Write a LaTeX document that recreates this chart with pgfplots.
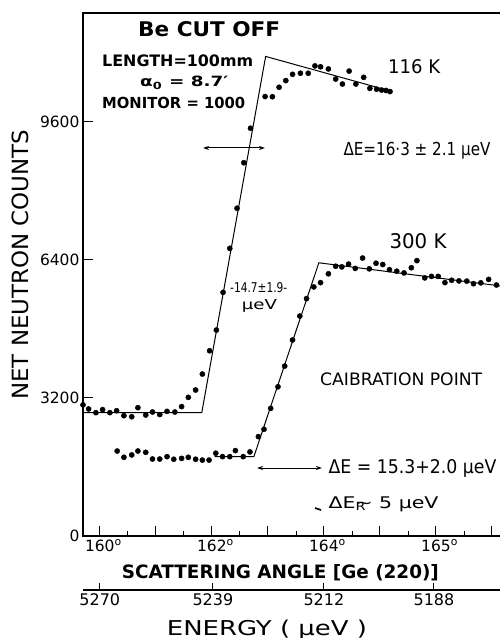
\documentclass[border=0pt]{standalone}
\usepackage{pgfplots}
\pgfplotsset{compat=1.18}
\usepackage{graphicx}
\usepackage{fontspec}
\setmainfont{DejaVu Sans}
\usetikzlibrary{arrows.meta}

\pgfplotstableread{
x y
159.70 3040
159.80 2945
159.93 2860
160.05 2930
160.18 2860
160.30 2905
160.43 2790
160.57 2765
160.68 2975
160.82 2805
160.94 2875
161.07 2815
161.20 2890
161.34 2875
161.46 3000
161.58 3215
161.71 3385
161.83 3755
161.96 4295
162.08 4775
162.20 5650
162.32 6670
162.45 7600
162.57 8655
162.69 9455
162.95 10190
163.08 10185
163.20 10405
163.32 10560
163.44 10705
163.58 10730
163.72 10730
163.84 10900
163.94 10880
164.08 10830
164.21 10595
164.33 10480
164.45 10780
164.57 10480
164.71 10635
164.82 10380
164.94 10360
165.03 10340
165.11 10330
165.18 10305
}\lowT

\pgfplotstableread{
x y
160.31 1970
160.43 1825
160.57 1880
160.68 1970
160.82 1940
160.94 1785
161.07 1785
161.20 1840
161.32 1780
161.46 1800
161.58 1825
161.71 1780
161.83 1760
161.95 1760
162.07 1920
162.19 1840
162.32 1840
162.42 1980
162.56 1840
162.68 1950
162.83 2305
162.93 2475
163.05 2960
163.18 3460
163.30 3940
163.44 4545
163.57 5100
163.69 5505
163.82 5775
163.94 5875
164.08 6080
164.21 6255
164.32 6240
164.44 6305
164.56 6205
164.69 6445
164.81 6195
164.93 6325
165.05 6295
165.17 6175
165.30 6140
165.43 6100
165.56 6220
165.66 6385
165.80 5985
165.92 6020
166.04 6020
166.16 5875
166.28 5930
166.41 5915
166.55 5910
166.67 5850
166.80 5870
166.94 5950
167.08 5820
}\roomT

\begin{document}
\begin{tikzpicture}
\begin{axis}[
  scale only axis, width=422pt, height=523pt,
  xmin=159.70, xmax=167.232, ymin=0, ymax=12127,
  axis line style={line width=1.4pt},
  tick pos=left, tick align=inside,
  xtick={160,161,162,163,164,165,166,167},
  xticklabels={{160\rlap{\textsuperscript{o}}},{},{162\rlap{\textsuperscript{o}}},{},{164\rlap{\textsuperscript{o}}},{},{165\rlap{\textsuperscript{o}}},{}},
  minor x tick num=1,
  ytick={0,3200,6400,9600},
  yticklabels={0,3200,6400,9600},
  major tick length=10pt, minor tick length=5pt,
  major tick style={black, line width=1pt},
  minor tick style={black, line width=0.8pt},
  tick label style={font=\fontsize{15.5}{18}\selectfont},
  /pgf/number format/assume math mode=true,
  clip=true,
]
\addplot[only marks, mark=*, mark size=2.6pt, black] table[x=x,y=y] {\lowT};
\addplot[only marks, mark=*, mark size=2.6pt, black] table[x=x,y=y] {\roomT};
\addplot[black, line width=1pt] coordinates {(159.70,2860) (161.82,2860) (162.96,11120) (165.18,10320)};
\addplot[black, line width=1pt] coordinates {(162.05,1840) (162.75,1840) (163.91,6335) (167.23,5785)};
\end{axis}

\begin{axis}[
  at={(0pt,-54pt)}, anchor=south west,
  scale only axis, width=422pt, height=10pt,
  xmin=159.70, xmax=167.232, ymin=0, ymax=1,
  axis x line=bottom, axis y line=none,
  axis line style={-, line width=1.2pt},
  x axis line style={-},
  xtick={160,162.018,164,165.964},
  xticklabels={5270,5239,5212,5188},
  tick align=inside, major tick length=7pt,
  major tick style={black, line width=1pt},
  tick label style={font=\fontsize{16}{18}\selectfont},
]
\end{axis}

% annotations (1pt = 1px of reference)
\node[anchor=base west, inner sep=0] at (55pt,499.3pt) {\resizebox{142pt}{15pt}{\bfseries Be CUT OFF}};
\node[anchor=base west, inner sep=0] at (19pt,469.3pt) {\resizebox{151pt}{11.7pt}{\bfseries LENGTH=100mm}};
\node[anchor=base west, inner sep=0] at (57pt,449pt) {\resizebox{88pt}{10.5pt}{\bfseries α\textsubscript{0} = 8.7′}};
\node[anchor=base west, inner sep=0] at (19pt,427.7pt) {\resizebox{143pt}{11.3pt}{\bfseries MONITOR = 1000}};
\node[anchor=base west, inner sep=0] at (305pt,462pt) {\resizebox{52pt}{14pt}{116 K}};
\node[anchor=base west, inner sep=0] at (260.3pt,380pt) {\resizebox{147pt}{13.3pt}{ΔE=16·3 ± 2.1 μeV}};
\node[anchor=base west, inner sep=0] at (306.3pt,287.7pt) {\resizebox{57pt}{15pt}{300 K}};
\node[anchor=base west, inner sep=0] at (147pt,243.3pt) {\resizebox{57pt}{10pt}{-14.7±1.9-}};
\node[anchor=base west, inner sep=0] at (158.7pt,226pt) {\resizebox{35pt}{10pt}{μeV}};
\node[anchor=base west, inner sep=0] at (237pt,151pt) {\resizebox{162pt}{12.7pt}{CAIBRATION POINT}};
\node[anchor=base west, inner sep=0] at (245.3pt,62.7pt) {\resizebox{168pt}{14pt}{ΔE = 15.3+2.0 μeV}};
\node[anchor=base west, inner sep=0] at (245.3pt,27.7pt) {\resizebox{110pt}{11.7pt}{ΔE\rlap{\textsubscript{R}}\textasciitilde\ 5 μeV}};
\node[anchor=base west, inner sep=0] at (38.7pt,-42.3pt) {\resizebox{317pt}{14pt}{\bfseries SCATTERING ANGLE [Ge (220)]}};
\node[anchor=base west, inner sep=0] at (83.7pt,-99pt) {\resizebox{200pt}{15.5pt}{ENERGY ( μeV )}};
\node[rotate=90, anchor=base west, inner sep=0] at (-54.7pt,136pt) {\resizebox{270pt}{16.6pt}{NET NEUTRON COUNTS}};

\draw[{Stealth[length=6pt,width=4pt]}-{Stealth[length=6pt,width=4pt]}, line width=1pt] (120pt,388pt) -- (182pt,388pt);
\draw[{Stealth[length=6pt,width=4pt]}-{Stealth[length=6pt,width=4pt]}, line width=1pt] (174pt,68pt) -- (239pt,68pt);
\draw[line width=1.6pt] (232pt,28pt) -- (238pt,26pt);

\pgfresetboundingbox
\path[use as bounding box] (-83pt,-102pt) rectangle (417pt,536pt);
\end{tikzpicture}
\end{document}
